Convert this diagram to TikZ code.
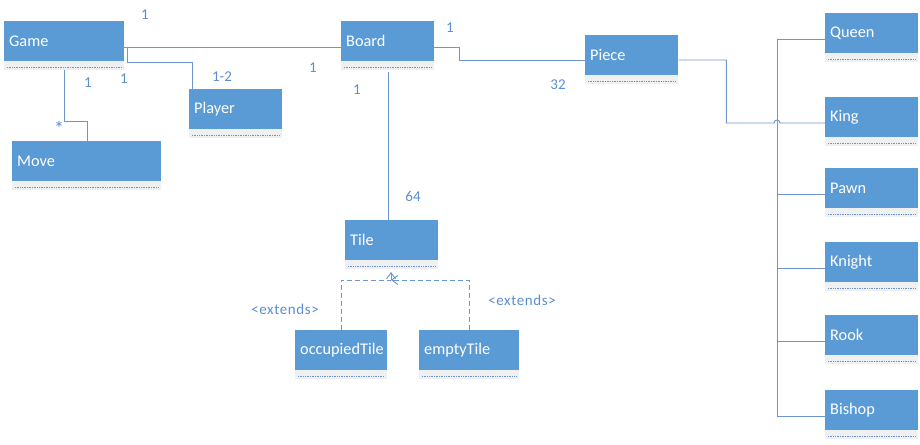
\documentclass[tikz,border=0pt]{standalone}
\usepackage{fontspec}
\setmainfont{Carlito}
\usetikzlibrary{arrows.meta}
\definecolor{boxblue}{HTML}{5B9BD5}
\definecolor{linecol}{HTML}{6C96CC}
\definecolor{stripgray}{HTML}{EFF0F2}
\definecolor{dotcol}{HTML}{6F93CA}
\definecolor{labcol}{HTML}{5B8FCF}
\tikzset{
  cls/.style={fill=boxblue, text=white, font=\fontsize{16.3}{19}\selectfont,
    minimum height=40pt, inner xsep=5pt, inner ysep=0pt, anchor=north west, align=left},
  conn/.style={draw=linecol, line width=0.9pt},
  dashconn/.style={draw=linecol, line width=0.9pt, dash pattern=on 5pt off 3pt},
  mult/.style={text=labcol, font=\fontsize{15}{17}\selectfont, inner sep=0pt},
}
\newcommand\clsstrip[1]{%
  \fill[stripgray] (#1.south west) rectangle ([yshift=-9pt]#1.south east);
  \draw[dotcol, line width=0.7pt, dash pattern=on 1pt off 0.7pt]
    ([xshift=3pt,yshift=-6pt]#1.south west) -- ([xshift=-3pt,yshift=-6pt]#1.south east);}
\begin{document}
\begin{tikzpicture}[x=1pt,y=-1pt]
\fill[white] (0,0) rectangle (920,444);
\useasboundingbox (0,0) rectangle (920,444);

% classes
\node[cls, minimum width=120pt, text width=110pt] (game)   at (4,21)   {Game};
\node[cls, minimum width=93pt,  text width=83pt]  (board)  at (341,21) {Board};
\node[cls, minimum width=93pt,  text width=83pt]  (piece)  at (585,35) {Piece};
\node[cls, minimum width=93pt,  text width=83pt]  (player) at (189,89) {Player};
\node[cls, minimum width=149pt, text width=139pt] (move)   at (12,141) {Move};
\node[cls, minimum width=93pt,  text width=83pt]  (tile)   at (345,220) {Tile};
\node[cls, minimum width=92pt,  text width=82pt]  (occ)    at (295,330) {occupiedTile};
\node[cls, minimum width=100pt, text width=90pt]  (empty)  at (419,330) {emptyTile};
\node[cls, minimum width=93pt,  text width=83pt]  (queen)  at (825,13)  {Queen};
\node[cls, minimum width=93pt,  text width=83pt]  (king)   at (825,97)  {King};
\node[cls, minimum width=93pt,  text width=83pt]  (pawn)   at (825,168) {Pawn};
\node[cls, minimum width=93pt,  text width=83pt]  (knight) at (825,242) {Knight};
\node[cls, minimum width=93pt,  text width=83pt]  (rook)   at (825,315) {Rook};
\node[cls, minimum width=93pt,  text width=83pt]  (bishop) at (825,390) {Bishop};

\foreach \n in {game,board,piece,player,move,tile,occ,empty,queen,king,pawn,knight,rook,bishop}{\clsstrip{\n}}

% associations
\draw[conn] ([yshift=-26pt]game.north east) -- ([yshift=-26pt]board.north west);
\draw[conn] ([xshift=3pt,yshift=-26pt]game.north east) -- ++(0,15) -| ([xshift=3pt]player.north west);
\draw[conn] ([xshift=60pt,yshift=-9pt]game.south west) -- ++(0,51) -| ([xshift=75pt]move.north west);
\draw[conn] ([yshift=-26pt]board.north east) -- ++(25,0) |- ([yshift=-25pt]piece.north west);
\draw[conn] ([xshift=47pt,yshift=-11pt]board.south west) -- ([xshift=43pt]tile.north west);

% generalization
\coordinate (gen) at (391,280);
\draw[dashconn] (occ.north) |- (gen);
\draw[conn, -{Straight Barb[length=6pt,width=9pt]}] (gen) -- ++(0,-8);
\draw[dashconn] (empty.north) |- ([xshift=7pt]gen);
\draw[conn, -{Straight Barb[length=6pt,width=9pt]}] ([xshift=7pt]gen) -- (gen);

% piece hierarchy
\draw[conn] ([yshift=-25pt]piece.north east) -- ++(48,0) |- ([xshift=-51pt,yshift=-26pt]king.north west)
  arc[start angle=180, end angle=0, radius=3pt] -- ([yshift=-26pt]king.north west);
\draw[conn] ([yshift=-26pt]queen.north west) -- ++(-48,0) |- ([yshift=-26pt]bishop.north west);
\foreach \n in {pawn,knight,rook}{
  \draw[conn] ([yshift=-26pt]\n.north west) -- ++(-48,0);}

% multiplicities
\node[mult] (m1) at (145,15) {1};
\node[mult] (m2) at (124,79) {1};
\node[mult] (m3) at (88,83) {1};
\node[mult, font=\fontsize{20}{20}\selectfont] (m4) at (59,128) {*};
\node[mult] (m5) at (222,77) {1-2};
\node[mult] (m6) at (313,68) {1};
\node[mult] (m7) at (450,28) {1};
\node[mult] (m8) at (558,85) {32};
\node[mult] (m9) at (357,90) {1};
\node[mult] (m10) at (413,196) {64};
\node[mult, font=\fontsize{15}{17}\selectfont\addfontfeature{LetterSpace=4}] (e1) at (285,309) {<extends>};
\node[mult, font=\fontsize{15}{17}\selectfont\addfontfeature{LetterSpace=4}] (e2) at (522,300) {<extends>};
\end{tikzpicture}
\end{document}
